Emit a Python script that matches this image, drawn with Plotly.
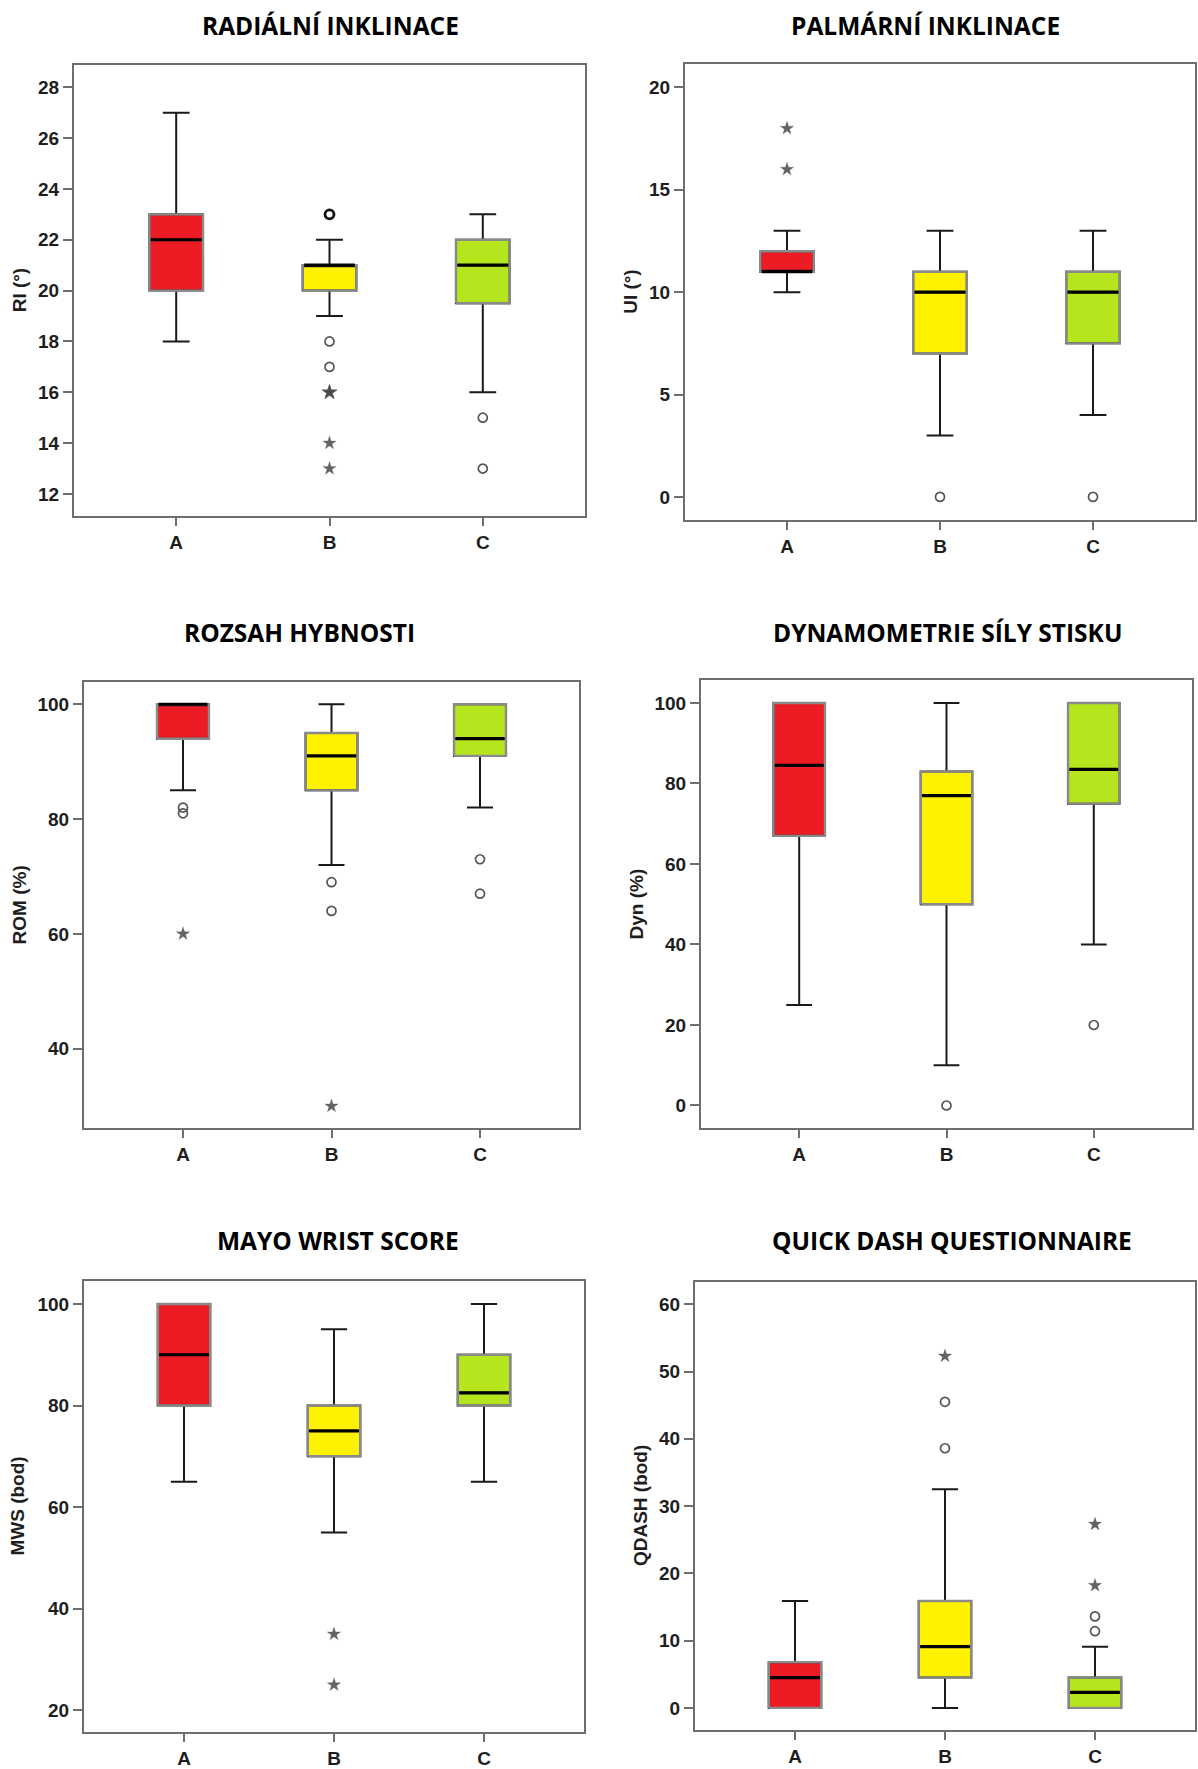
import plotly.graph_objects as go

W, H = 1198, 1769

groups = ["A", "B", "C"]
fills = ["#ED1C24", "#FFF200", "#B5E61D"]

titles = ["RADIÁLNÍ INKLINACE", "PALMÁRNÍ INKLINACE", "ROZSAH HYBNOSTI",
          "DYNAMOMETRIE SÍLY STISKU", "MAYO WRIST SCORE", "QUICK DASH QUESTIONNAIRE"]
ytitles = ["RI (°)", "UI (°)", "ROM (%)", "Dyn (%)", "MWS (bod)", "QDASH (bod)"]

# --- RI ---
RI_low = [18, 19, 16]
RI_q1 = [20, 20, 19.5]
RI_med = [22, 21, 21]
RI_q3 = [23, 21, 22]
RI_high = [27, 22, 23]
RI_circ_x = ["B", "B", "B", "C", "C"]
RI_circ_y = [23, 18, 17, 15, 13]
RI_circ_n = [2, 1, 1, 1, 1]          # cases at the same value
RI_star_x = ["B", "B", "B"]
RI_star_y = [16, 14, 13]
RI_star_n = [2, 1, 1]
RI_ticks = [12, 14, 16, 18, 20, 22, 24, 26, 28]

# --- UI ---
UI_low = [10, 3, 4]
UI_q1 = [11, 7, 7.5]
UI_med = [11, 10, 10]
UI_q3 = [12, 11, 11]
UI_high = [13, 13, 13]
UI_circ_x = ["B", "C"]
UI_circ_y = [0, 0]
UI_circ_n = [1, 1]
UI_star_x = ["A", "A"]
UI_star_y = [18, 16]
UI_star_n = [1, 1]
UI_ticks = [0, 5, 10, 15, 20]

# --- ROM ---
ROM_low = [85, 72, 82]
ROM_q1 = [94, 85, 91]
ROM_med = [100, 91, 94]
ROM_q3 = [100, 95, 100]
ROM_high = [100, 100, 100]
ROM_circ_x = ["A", "A", "B", "B", "C", "C"]
ROM_circ_y = [82, 81, 69, 64, 73, 67]
ROM_circ_n = [1, 1, 1, 1, 1, 1]
ROM_star_x = ["A", "B"]
ROM_star_y = [60, 30]
ROM_star_n = [1, 1]
ROM_ticks = [40, 60, 80, 100]

# --- Dyn ---
DYN_low = [25, 10, 40]
DYN_q1 = [67, 50, 75]
DYN_med = [84.5, 77, 83.5]
DYN_q3 = [100, 83, 100]
DYN_high = [100, 100, 100]
DYN_circ_x = ["B", "C"]
DYN_circ_y = [0, 20]
DYN_circ_n = [1, 1]
DYN_star_x = []
DYN_star_y = []
DYN_star_n = []
DYN_ticks = [0, 20, 40, 60, 80, 100]

# --- MWS ---
MWS_low = [65, 55, 65]
MWS_q1 = [80, 70, 80]
MWS_med = [90, 75, 82.5]
MWS_q3 = [100, 80, 90]
MWS_high = [100, 95, 100]
MWS_circ_x = []
MWS_circ_y = []
MWS_circ_n = []
MWS_star_x = ["B", "B"]
MWS_star_y = [35, 25]
MWS_star_n = [1, 1]
MWS_ticks = [20, 40, 60, 80, 100]

# --- QDASH ---
QD_low = [0, 0, 0]
QD_q1 = [0, 4.5, 0]
QD_med = [4.5, 9.1, 2.3]
QD_q3 = [6.8, 15.9, 4.5]
QD_high = [15.9, 32.5, 9.1]
QD_circ_x = ["B", "B", "C", "C"]
QD_circ_y = [45.5, 38.6, 13.6, 11.4]
QD_circ_n = [1, 1, 1, 1]
QD_star_x = ["B", "C", "C"]
QD_star_y = [52.3, 27.3, 18.2]
QD_star_n = [1, 1, 1]
QD_ticks = [0, 10, 20, 30, 40, 50, 60]

panels = [
    (RI_low, RI_q1, RI_med, RI_q3, RI_high, RI_circ_x, RI_circ_y, RI_circ_n, RI_star_x, RI_star_y, RI_star_n, RI_ticks),
    (UI_low, UI_q1, UI_med, UI_q3, UI_high, UI_circ_x, UI_circ_y, UI_circ_n, UI_star_x, UI_star_y, UI_star_n, UI_ticks),
    (ROM_low, ROM_q1, ROM_med, ROM_q3, ROM_high, ROM_circ_x, ROM_circ_y, ROM_circ_n, ROM_star_x, ROM_star_y, ROM_star_n, ROM_ticks),
    (DYN_low, DYN_q1, DYN_med, DYN_q3, DYN_high, DYN_circ_x, DYN_circ_y, DYN_circ_n, DYN_star_x, DYN_star_y, DYN_star_n, DYN_ticks),
    (MWS_low, MWS_q1, MWS_med, MWS_q3, MWS_high, MWS_circ_x, MWS_circ_y, MWS_circ_n, MWS_star_x, MWS_star_y, MWS_star_n, MWS_ticks),
    (QD_low, QD_q1, QD_med, QD_q3, QD_high, QD_circ_x, QD_circ_y, QD_circ_n, QD_star_x, QD_star_y, QD_star_n, QD_ticks),
]

# layout geometry (pixels)
frames = [  # left, right, top, bottom
    (74, 585, 65, 517),
    (685, 1195, 64, 521),
    (84, 579, 684, 1131),
    (701, 1192, 682, 1131),
    (84, 584, 1284, 1736),
    (695, 1195, 1285, 1734),
]
yranges = [(11.14, 28.88), (-1.12, 21.15), (26.1, 103.8), (-5.7, 105.6), (15.7, 104.5), (-3.3, 63.3)]
title_pos = [(330, 26), (925, 26), (299, 634), (948, 634), (338, 1243), (952, 1243)]
ytitle_x = [19, 631, 19, 636, 18, 640]

BOXW = 0.35
fig = go.Figure()
annotations = []
tick_font = dict(family="Liberation Sans, Arial, sans-serif", size=19, color="#1e1e1e", weight="bold")

for k, (low, q1, med, q3, high, cx, cy, cn, sx, sy, sn, ticks) in enumerate(panels):
    n = "" if k == 0 else str(k + 1)
    xa, ya = "x" + n, "y" + n
    for i in range(3):
        fig.add_trace(go.Box(
            x=[i], q1=[q1[i]], median=[med[i]], q3=[q3[i]],
            lowerfence=[low[i]], upperfence=[high[i]],
            width=BOXW, whiskerwidth=0.5, fillcolor=fills[i],
            line=dict(color="#1a1a1a", width=2), boxpoints=False,
            hoverinfo="skip", xaxis=xa, yaxis=ya))
        h = BOXW / 2
        fig.add_trace(go.Scatter(
            x=[i - h, i + h, i + h, i - h, i - h],
            y=[q1[i], q1[i], q3[i], q3[i], q1[i]],
            mode="lines", line=dict(color="#8a8a8a", width=2.4),
            hoverinfo="skip", xaxis=xa, yaxis=ya))
        fig.add_trace(go.Scatter(
            x=[i - h + 0.01, i + h - 0.01], y=[med[i], med[i]],
            mode="lines", line=dict(color="#000000", width=3.2),
            hoverinfo="skip", xaxis=xa, yaxis=ya))
    if cx:
        fig.add_trace(go.Scatter(
            x=[groups.index(g) for g in cx], y=cy, mode="markers",
            marker=dict(symbol="circle-open", size=9,
                        color=["#111111" if c > 1 else "#555555" for c in cn],
                        line=dict(width=[2.8 if c > 1 else 1.7 for c in cn],
                                  color=["#111111" if c > 1 else "#555555" for c in cn])),
            hoverinfo="skip", xaxis=xa, yaxis=ya))
    if sx:
        fig.add_trace(go.Scatter(
            x=[groups.index(g) for g in sx], y=sy, mode="markers",
            marker=dict(symbol="star", size=[11 if c > 1 else 10 for c in sn],
                        color=["#000000" if c > 1 else "#222222" for c in sn],
                        line=dict(width=[0.8 if c > 1 else 0.3 for c in sn],
                                  color=["#000000" if c > 1 else "#222222" for c in sn])),
            hoverinfo="skip", xaxis=xa, yaxis=ya))

    l, r, t, b = frames[k]
    axis_common = dict(showline=True, mirror=True, linecolor="#6e6e6e", linewidth=2,
                       ticks="outside", tickwidth=2, tickcolor="#6e6e6e",
                       showgrid=False, zeroline=False, tickfont=tick_font, fixedrange=True)
    fig.layout["xaxis" + n] = dict(
        domain=[l / W, r / W], anchor=ya, range=[-2 / 3, 2 + 2 / 3], ticklen=8,
        tickmode="array", tickvals=[0, 1, 2], ticktext=groups, **axis_common)
    fig.layout["yaxis" + n] = dict(
        domain=[1 - b / H, 1 - t / H], anchor=xa, range=list(yranges[k]), ticklen=9,
        tickmode="array", tickvals=ticks, ticktext=[str(v) for v in ticks], **axis_common)

    tx, ty = title_pos[k]
    annotations.append(dict(
        text=titles[k], x=tx / W, y=1 - ty / H, xref="paper", yref="paper",
        xanchor="center", yanchor="middle", showarrow=False,
        font=dict(family="Open Sans, sans-serif", size=24.5, color="#000000", weight="bold")))
    annotations.append(dict(
        text=ytitles[k], x=ytitle_x[k] / W, y=1 - (t + b) / 2 / H, xref="paper", yref="paper",
        xanchor="center", yanchor="middle", showarrow=False, textangle=-90,
        font=dict(family="Liberation Sans, Arial, sans-serif", size=19, color="#1e1e1e", weight="bold")))

fig.update_layout(width=W, height=H, margin=dict(l=0, r=0, t=0, b=0),
                  paper_bgcolor="white", plot_bgcolor="white", showlegend=False,
                  annotations=annotations)

fig.write_html("out.html", config={"displayModeBar": False},
               post_script="document.body.style.margin='0';document.body.style.padding='0';"
                           "document.documentElement.style.overflow='hidden';")
